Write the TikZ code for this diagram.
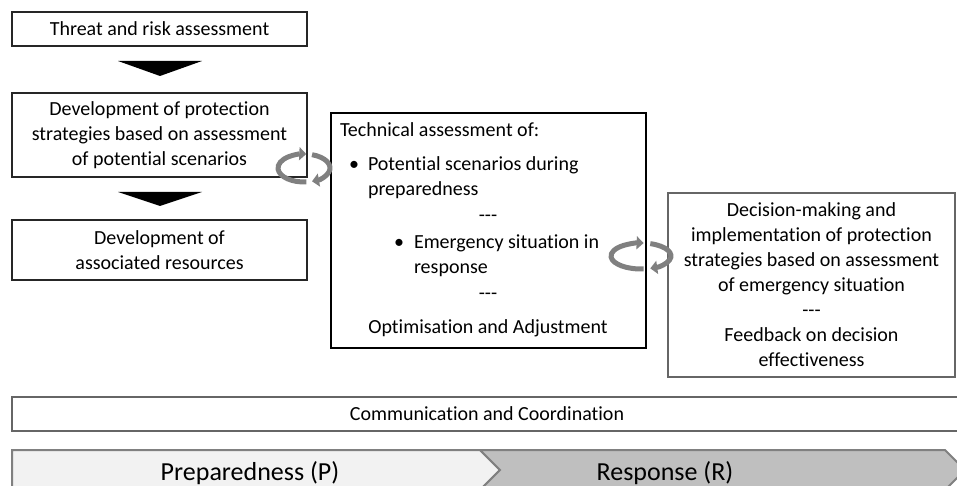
\documentclass[tikz,border=0pt]{standalone}
\usepackage{fontspec}
\setmainfont{Carlito}[Ligatures={NoCommon}]
\usetikzlibrary{arrows.meta}
\begin{document}
\begin{tikzpicture}[x=1bp,y=-1bp,
  every node/.style={font=\fontsize{20bp}{25bp}\selectfont, inner sep=0pt, outer sep=0pt},
  box/.style={draw=black!85, line width=1.1bp, align=center},
  graybox/.style={box, draw=black!60},
  ltxt/.style={anchor=base west},
  ctxt/.style={anchor=base},
  blockarrow/.style={fill=black},
  cyc/.style={draw=black!50, line width=5bp, -{Triangle[length=7bp,width=13bp]}},
  phaseP/.style={fill=black!5, draw=black!50, line width=2bp, line join=miter},
  phaseR/.style={fill=black!25, draw=black!50, line width=2bp, line join=miter},
  phasetxt/.style={anchor=base, font=\fontsize{26bp}{30bp}\selectfont}
]
\useasboundingbox (0,0) rectangle (957,486);

% left column
\node[box, minimum width=295bp, minimum height=34bp] (threat) at (159.5,29) {Threat and risk assessment};
\node[box, minimum width=295bp, minimum height=84bp] (dev) at (159.5,135) {Development of protection\\strategies based on assessment\\of potential scenarios};
\node[box, minimum width=295bp, minimum height=60bp] (res) at (159.5,250) {Development of\\associated resources};

\fill[blockarrow] (118,61) -- (202,61) -- (160,76) -- cycle;
\fill[blockarrow] (118,192) -- (202,192) -- (160,206) -- cycle;

% middle box
\node[draw=black, line width=1.1bp, minimum width=315bp, minimum height=235bp] (tech) at (488.5,230.5) {};
\node[ltxt] (t1) at (340,137) {Technical assessment of:};
\node[ltxt] (b1) at (349,171) {\textbullet};
\node[ltxt] (t2) at (368,171) {Potential scenarios during};
\node[ltxt] (t3) at (368,196) {preparedness};
\node[ctxt] (t4) at (488,222) {-\kern0pt-\kern0pt-};
\node[ltxt] (b2) at (394,249) {\textbullet};
\node[ltxt] (t5) at (414,249) {Emergency situation in};
\node[ltxt] (t6) at (414,274) {response};
\node[ctxt] (t7) at (488,300) {-\kern0pt-\kern0pt-};
\node[ctxt] (t8) at (488,334) {Optimisation and Adjustment};

% right box
\node[graybox, minimum width=287bp, minimum height=184bp] (dec) at (811.5,285) {Decision-making and\\implementation of protection\\strategies based on assessment\\of emergency situation\\-\kern0pt-\kern0pt-\\Feedback on decision\\effectiveness};

% cycle arrows
\draw[cyc] (304,168) ++(85:26 and 14) arc[start angle=85,end angle=275,x radius=26,y radius=14];
\draw[cyc] (304,168) ++(-72:26 and 14) arc[start angle=-72,end angle=72,x radius=26,y radius=14];
\draw[cyc] (641,256) ++(85:30 and 13) arc[start angle=85,end angle=275,x radius=30,y radius=13];
\draw[cyc] (641,256) ++(-72:30 and 13) arc[start angle=-72,end angle=72,x radius=30,y radius=13];

% communication
\node[graybox, minimum width=950bp, minimum height=34bp] (comm) at (487,414) {Communication and Coordination};

% phases
\draw[phaseP] (12,450) -- (480,450) -- (500,470) -- (480,490) -- (12,490) -- cycle;
\draw[phaseR] (480,450) -- (945,450) -- (965,470) -- (945,490) -- (480,490) -- (500,470) -- cycle;
\node[phasetxt] (prep) at (250,480) {Preparedness (P)};
\node[phasetxt] (resp) at (665,480) {Response (R)};
\end{tikzpicture}
\end{document}
